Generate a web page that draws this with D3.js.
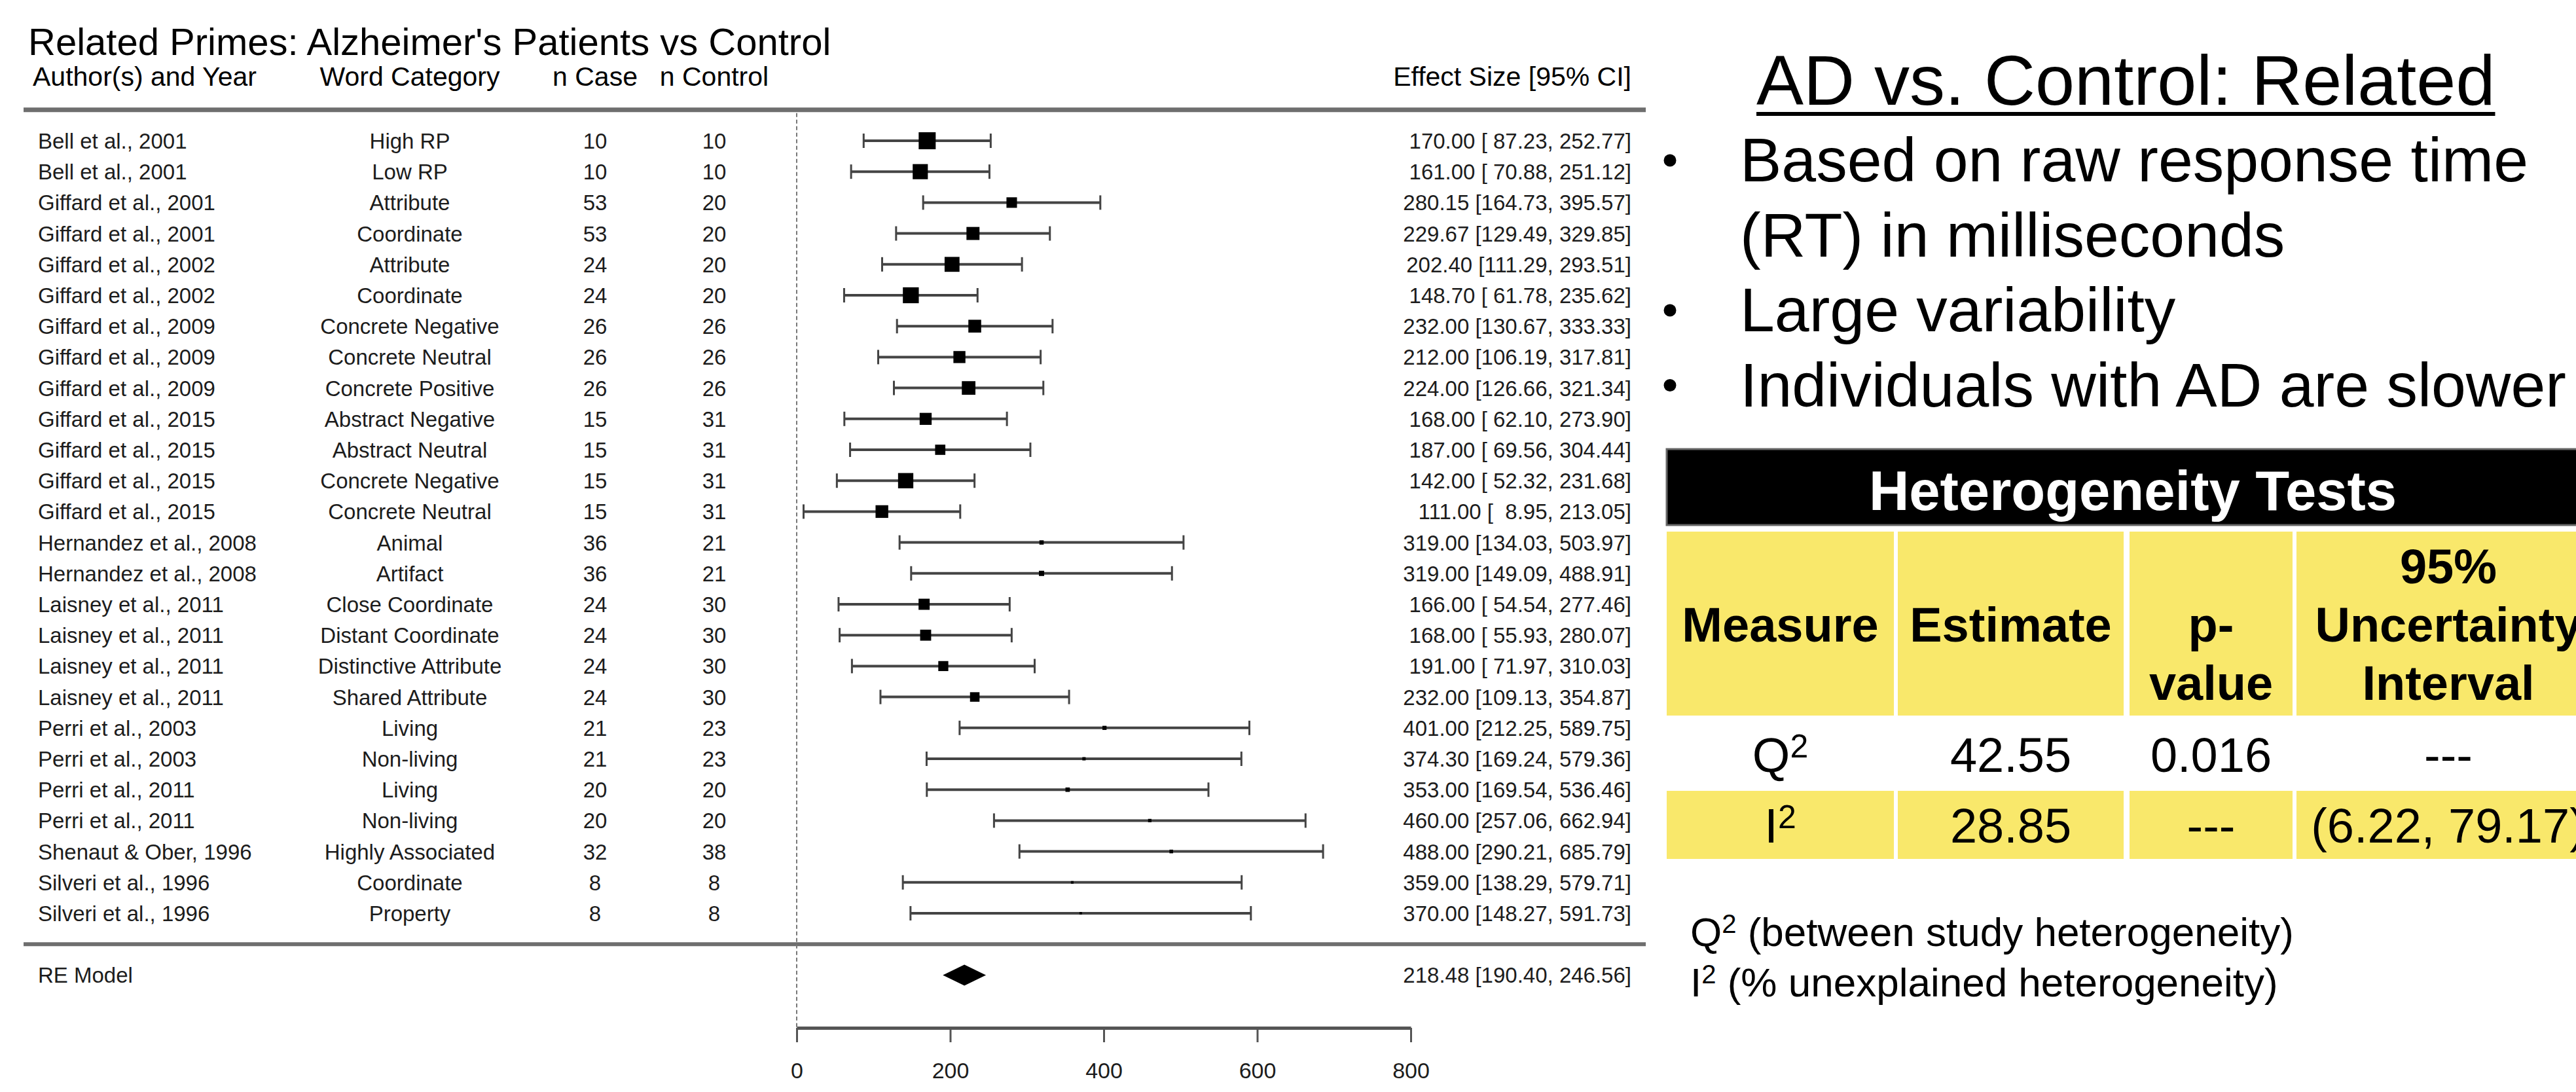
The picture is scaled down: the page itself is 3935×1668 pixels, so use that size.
<!DOCTYPE html>
<html>
<head>
<meta charset="utf-8">
<script src="https://cdn.jsdelivr.net/npm/d3@7"></script>
<style>
body { margin: 0; background: #fff; }
svg text { font-family: "Liberation Sans", Arial, sans-serif; }
</style>
</head>
<body>
<div class="chart"></div>
<script>
// studies, top to bottom
const authors = ["Bell et al., 2001","Bell et al., 2001","Giffard et al., 2001","Giffard et al., 2001",
  "Giffard et al., 2002","Giffard et al., 2002","Giffard et al., 2009","Giffard et al., 2009","Giffard et al., 2009",
  "Giffard et al., 2015","Giffard et al., 2015","Giffard et al., 2015","Giffard et al., 2015",
  "Hernandez et al., 2008","Hernandez et al., 2008","Laisney et al., 2011","Laisney et al., 2011",
  "Laisney et al., 2011","Laisney et al., 2011","Perri et al., 2003","Perri et al., 2003",
  "Perri et al., 2011","Perri et al., 2011","Shenaut & Ober, 1996","Silveri et al., 1996","Silveri et al., 1996"];
const categories = ["High RP","Low RP","Attribute","Coordinate","Attribute","Coordinate",
  "Concrete Negative","Concrete Neutral","Concrete Positive","Abstract Negative","Abstract Neutral",
  "Concrete Negative","Concrete Neutral","Animal","Artifact","Close Coordinate","Distant Coordinate",
  "Distinctive Attribute","Shared Attribute","Living","Non-living","Living","Non-living",
  "Highly Associated","Coordinate","Property"];
const nCase = [10,10,53,53,24,24,26,26,26,15,15,15,15,36,36,24,24,24,24,21,21,20,20,32,8,8];
const nControl = [10,10,20,20,20,20,26,26,26,31,31,31,31,21,21,30,30,30,30,23,23,20,20,38,8,8];
const estimates = [170.00,161.00,280.15,229.67,202.40,148.70,232.00,212.00,224.00,168.00,187.00,142.00,111.00,
  319.00,319.00,166.00,168.00,191.00,232.00,401.00,374.30,353.00,460.00,488.00,359.00,370.00];
const lower = [87.23,70.88,164.73,129.49,111.29,61.78,130.67,106.19,126.66,62.10,69.56,52.32,8.95,
  134.03,149.09,54.54,55.93,71.97,109.13,212.25,169.24,169.54,257.06,290.21,138.29,148.27];
const upper = [252.77,251.12,395.57,329.85,293.51,235.62,333.33,317.81,321.34,273.90,304.44,231.68,213.05,
  503.97,488.91,277.46,280.07,310.03,354.87,589.75,579.36,536.46,662.94,685.79,579.71,591.73];
const summary = {label: "RE Model", est: 218.48, lb: 190.40, ub: 246.56};
const axisTicks = [0, 200, 400, 600, 800];

const chartTitle = "Related Primes: Alzheimer's Patients vs Control";
const headers = ["Author(s) and Year", "Word Category", "n Case", "n Control", "Effect Size [95% CI]"];

// right panel
const panelTitle = "AD vs. Control: Related";
const bulletLines = [["Based on raw response time", true], ["(RT) in milliseconds", false],
  ["Large variability", true], ["Individuals with AD are slower", true]];
const tableTitle = "Heterogeneity Tests";
const tableHeader = [["Measure"], ["Estimate"], ["p-", "value"], ["95%", "Uncertainty", "Interval"]];
const measures = ["Q", "I"];
const hetEstimates = ["42.55", "28.85"];
const pValues = ["0.016", "---"];
const intervals = ["---", "(6.22, 79.17)"];
const notes = [["Q", " (between study heterogeneity)"], ["I", " (% unexplained heterogeneity)"]];

const W = 3935, H = 1668;
const svg = d3.select(".chart").append("svg")
  .attr("width", W)
  .attr("height", H);
svg.append("rect").attr("width", W).attr("height", H).attr("fill", "#fff");

const k = authors.length;
const rows = authors.map((a, i) => ({
  author: a, cat: categories[i], nc: nCase[i], nt: nControl[i],
  est: estimates[i], lb: lower[i], ub: upper[i], row: k - i
}));

const x = d3.scaleLinear().domain([0, 800]).range([1217, 2155]);
const y = d3.scaleLinear().domain([26, 1]).range([215, 1395]);

// square size from precision (1/SE)
const prec = rows.map(d => 3.92 / (d.ub - d.lb));
const sizeScale = d3.scaleLinear().domain(d3.extent(prec)).range([4, 26]);

const fmt = v => v.toFixed(2).padStart(6, " ");
const ciText = (e, l, u) => fmt(e) + " [" + fmt(l) + ", " + fmt(u) + "]";

const ink = "#1c1c1c", lineGrey = "#6e6e6e";

// title + headers
svg.append("text").attr("x", 43).attr("y", 84).attr("font-size", 58).attr("fill", "#000").text(chartTitle);
const headX = [50, 626, 909, 1091, 2492];
const headAnchor = ["start", "middle", "middle", "middle", "end"];
svg.append("g").selectAll("text").data(headers).join("text")
  .attr("x", (d, i) => headX[i])
  .attr("y", 131)
  .attr("text-anchor", (d, i) => headAnchor[i])
  .attr("font-size", 41)
  .attr("fill", "#000")
  .text(d => d);

// horizontal rules
svg.append("line").attr("x1", 36).attr("x2", 2514).attr("y1", y(27)).attr("y2", y(27))
  .attr("stroke", lineGrey).attr("stroke-width", 7);
svg.append("line").attr("x1", 36).attr("x2", 2514).attr("y1", y(0)).attr("y2", y(0))
  .attr("stroke", lineGrey).attr("stroke-width", 6);

// reference line at 0
svg.append("line").attr("x1", x(0)).attr("x2", x(0)).attr("y1", y(27) + 5).attr("y2", 1570)
  .attr("stroke", "#777").attr("stroke-width", 2).attr("stroke-dasharray", "6,4");

// study rows
const g = svg.append("g");
const rowG = g.selectAll("g.row").data(rows).join("g").attr("class", "row");

rowG.append("line")
  .attr("x1", d => x(d.lb)).attr("x2", d => x(d.ub))
  .attr("y1", d => y(d.row)).attr("y2", d => y(d.row))
  .attr("stroke", "#444").attr("stroke-width", 4);
rowG.selectAll("line.cap").data(d => [d.lb, d.ub].map(v => ({v, row: d.row}))).join("line")
  .attr("class", "cap")
  .attr("x1", d => x(d.v)).attr("x2", d => x(d.v))
  .attr("y1", d => y(d.row) - 11).attr("y2", d => y(d.row) + 11)
  .attr("stroke", "#444").attr("stroke-width", 3);
rowG.append("rect")
  .attr("x", (d, i) => x(d.est) - sizeScale(prec[i]) / 2)
  .attr("y", (d, i) => y(d.row) - sizeScale(prec[i]) / 2)
  .attr("width", (d, i) => sizeScale(prec[i]))
  .attr("height", (d, i) => sizeScale(prec[i]))
  .attr("fill", "#000");

const colText = (sel, fn, xPos, anchor) => sel.append("text")
  .attr("x", xPos).attr("y", d => y(d.row) + 12)
  .attr("text-anchor", anchor)
  .attr("font-size", 33)
  .attr("fill", ink)
  .style("white-space", "pre")
  .text(fn);
colText(rowG, d => d.author, 58, "start");
colText(rowG, d => d.cat, 626, "middle");
colText(rowG, d => d.nc, 909, "middle");
colText(rowG, d => d.nt, 1091, "middle");
colText(rowG, d => ciText(d.est, d.lb, d.ub), 2492, "end");

// summary
const ys = y(-1);
svg.append("polygon")
  .attr("points", [[x(summary.lb), ys], [x(summary.est), ys - 16], [x(summary.ub), ys], [x(summary.est), ys + 16]].join(" "))
  .attr("fill", "#000");
svg.append("text").attr("x", 58).attr("y", ys + 12).attr("font-size", 33).attr("fill", ink).text(summary.label);
svg.append("text").attr("x", 2492).attr("y", ys + 12).attr("text-anchor", "end").attr("font-size", 33)
  .attr("fill", ink).style("white-space", "pre").text(ciText(summary.est, summary.lb, summary.ub));

// x axis
const xAxis = d3.axisBottom(x).tickValues(axisTicks).tickSize(22).tickSizeOuter(0).tickPadding(31)
  .tickFormat(d3.format("d"));
const ax = svg.append("g").attr("transform", "translate(0,1570)").call(xAxis);
ax.select(".domain").attr("stroke", "#555").attr("stroke-width", 5);
ax.selectAll(".tick line").attr("stroke", "#555").attr("stroke-width", 3);
ax.selectAll(".tick text").attr("font-size", 34).attr("fill", ink)
  .style("font-family", "'Liberation Sans', Arial, sans-serif");

// right panel: heading + bullets
const pt = svg.append("text").attr("x", 2683).attr("y", 160).attr("font-size", 108).attr("fill", "#000").text(panelTitle);
const ptLen = pt.node().getComputedTextLength();
svg.append("line").attr("x1", 2683).attr("x2", 2683 + ptLen).attr("y1", 174).attr("y2", 174)
  .attr("stroke", "#000").attr("stroke-width", 6);

const bl = svg.append("g").selectAll("g").data(bulletLines).join("g");
bl.append("text").attr("x", 2658).attr("y", (d, i) => 277 + i * 114.5)
  .attr("font-size", 95).attr("fill", "#000").text(d => d[0]);
bl.filter(d => d[1]).append("circle")
  .attr("cx", 2551).attr("cy", (d) => 277 + bulletLines.indexOf(d) * 114.5 - 32)
  .attr("r", 9.5).attr("fill", "#000");

// heterogeneity table
const cols = [[2546, 2893], [2899, 3244], [3253, 3502], [3508, 3972]];
const colMid = c => (c[0] + c[1]) / 2;
const yellow = "#f9e86b";

svg.append("rect").attr("x", 2546).attr("y", 686).attr("width", 1430).attr("height", 116)
  .attr("fill", "#000").attr("stroke", "#666").attr("stroke-width", 3);
svg.append("text").attr("x", 3258).attr("y", 779).attr("text-anchor", "middle")
  .attr("font-size", 85).attr("font-weight", "bold").attr("fill", "#fff").text(tableTitle);

svg.append("g").selectAll("rect").data(cols).join("rect")
  .attr("x", d => d[0]).attr("y", 812).attr("width", d => d[1] - d[0]).attr("height", 281)
  .attr("fill", yellow);
svg.append("g").selectAll("rect").data(cols).join("rect")
  .attr("x", d => d[0]).attr("y", 1208).attr("width", d => d[1] - d[0]).attr("height", 104)
  .attr("fill", yellow);

tableHeader.forEach((lines, ci) => {
  svg.append("g").selectAll("text").data(lines).join("text")
    .attr("x", colMid(cols[ci]))
    .attr("y", (d, j) => lines.length === 1 ? 980 : 1069 - (lines.length - 1 - j) * 89)
    .attr("text-anchor", "middle")
    .attr("font-size", 74).attr("font-weight", "bold").attr("fill", "#000")
    .text(d => d);
});

const rowBase = [1179, 1287];
measures.forEach((m, r) => {
  const t = svg.append("text").attr("x", colMid(cols[0])).attr("y", rowBase[r])
    .attr("text-anchor", "middle").attr("font-size", 74).attr("fill", "#000");
  t.append("tspan").text(m);
  t.append("tspan").attr("font-size", 50).attr("dy", -22).text("2");
  [hetEstimates[r], pValues[r], intervals[r]].forEach((v, c) => {
    svg.append("text").attr("x", colMid(cols[c + 1])).attr("y", rowBase[r])
      .attr("text-anchor", "middle").attr("font-size", 74).attr("fill", "#000").text(v);
  });
});

// footnotes
notes.forEach((n, i) => {
  const t = svg.append("text").attr("x", 2582).attr("y", 1445 + i * 77)
    .attr("font-size", 62).attr("fill", "#000");
  t.append("tspan").text(n[0]);
  t.append("tspan").attr("font-size", 40).attr("dy", -20).text("2");
  t.append("tspan").attr("dy", 20).text(n[1]);
});
</script>
</body>
</html>
